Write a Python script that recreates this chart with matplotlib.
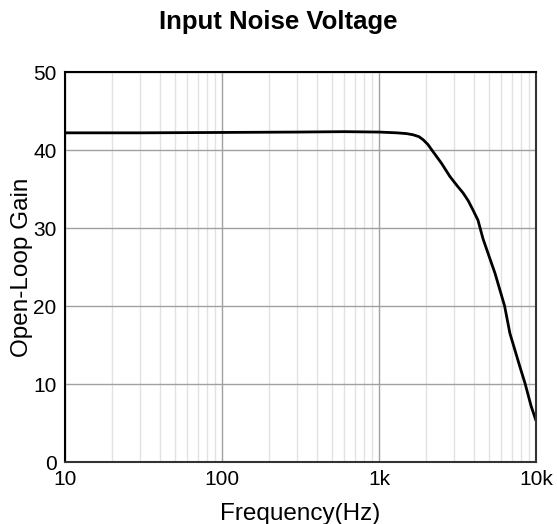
import matplotlib
matplotlib.use("Agg")
import matplotlib.pyplot as plt
from matplotlib.ticker import LogLocator, NullFormatter

plt.rcParams['font.family'] = ['Liberation Sans', 'DejaVu Sans']

freq = [10, 30, 100, 300, 600, 1000, 1300, 1500, 1650, 1800, 1915, 2050, 2170, 2500, 2830, 3150, 3430,
        3700, 3970, 4270, 4600, 5000, 5480, 6310, 6820, 7900, 8510, 9300, 10000]
gain = [42.2, 42.2, 42.25, 42.3, 42.35, 42.3, 42.2, 42.1, 41.95, 41.7, 41.3, 40.7, 40.0, 38.3, 36.6, 35.4, 34.5,
        33.5, 32.3, 31.0, 28.6, 26.5, 24.2, 20.0, 16.5, 12.2, 10.1, 7.2, 5.3]
xticks = [10, 100, 1000, 10000]
xticklabels = ['10', '100', '1k', '10k']
yticks = [0, 10, 20, 30, 40, 50]

fig = plt.figure(figsize=(5.57, 5.24), dpi=100)
ax = fig.add_axes([65/557, (524-462)/524, (536-65)/557, (462-72)/524])
ax.set_xscale('log')
ax.set_xlim(10, 10000)
ax.set_ylim(0, 50)
ax.xaxis.set_minor_locator(LogLocator(base=10, subs=range(2, 10)))
ax.xaxis.set_minor_formatter(NullFormatter())
ax.set_xticks(xticks)
ax.set_xticklabels(xticklabels)
ax.set_yticks(yticks)
ax.grid(which='major', color='#a0a0a0', linewidth=1.0)
ax.grid(which='minor', axis='x', color='#e2e2e2', linewidth=1.0)
ax.tick_params(which='both', length=0, labelsize=15, pad=6)
ax.plot(freq, gain, color='black', linewidth=2.0, solid_capstyle='butt')
for s in ax.spines.values():
    s.set_linewidth(1.5)
    s.set_color('#333333')
ax.spines['left'].set_color('black')
ax.spines['top'].set_color('black')
ax.set_xlabel('Frequency(Hz)', fontsize=17.5, labelpad=10)
ax.set_ylabel('Open-Loop Gain', fontsize=17.5, labelpad=0)
fig.text(0.5, 1 - 29.5/524, 'Input Noise Voltage', ha='center', va='baseline', fontsize=18.5, fontweight='bold')
fig.savefig('out.png', dpi=100)
